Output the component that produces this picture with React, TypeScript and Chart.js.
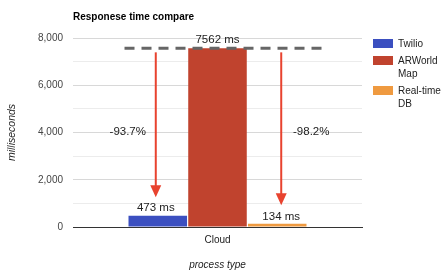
import React, { useEffect, useRef } from "react";
import { Chart, registerables } from "chart.js";

Chart.register(...registerables);

const categories = ["Cloud"];
const seriesNames = ["Twilio", "ARWorld Map", "Real-time DB"];
const legendLines = [["Twilio"], ["ARWorld", "Map"], ["Real-time", "DB"]];
const twilioValues = [473];
const arWorldValues = [7562];
const realtimeValues = [134];
const seriesColors = ["#3b4fc0", "#c0432e", "#ef9a40"];
const yTickLabels = ["0", "2,000", "4,000", "6,000", "8,000"];
const chartTitle = "Responese time compare";
const xTitle = "process type";
const yTitle = "milliseconds";

const FONT = "Arial, 'Liberation Sans', sans-serif";

const annotations = {
  id: "annotations",
  afterDatasetsDraw(chart: any) {
    const ctx = chart.ctx;
    const y = chart.scales.y;
    const b0 = chart.getDatasetMeta(0).data[0] as any;
    const b1 = chart.getDatasetMeta(1).data[0] as any;
    const b2 = chart.getDatasetMeta(2).data[0] as any;
    const ref = arWorldValues[0];
    const refY = y.getPixelForValue(ref);
    ctx.save();
    // dashed reference line
    ctx.strokeStyle = "#666666";
    ctx.lineWidth = 3;
    ctx.setLineDash([10, 7]);
    ctx.beginPath();
    ctx.moveTo(b0.x - b0.width / 2 - 4, refY);
    ctx.lineTo(b2.x + b2.width / 2 + 18, refY);
    ctx.stroke();
    ctx.setLineDash([]);

    ctx.font = `11.5px ${FONT}`;
    ctx.fillStyle = "#222222";
    ctx.textAlign = "center";
    ctx.textBaseline = "middle";
    const items = [
      { bar: b0, v: twilioValues[0], dx: -2, pdx: -28 },
      { bar: b2, v: realtimeValues[0], dx: 4, pdx: 30 },
    ];
    ctx.fillText(`${ref} ms`, b1.x, refY - 8.5);
    for (const it of items) {
      const topY = y.getPixelForValue(it.v);
      const labelY = topY - 7.5;
      const ax = it.bar.x + it.dx;
      ctx.fillStyle = "#222222";
      ctx.fillText(`${it.v} ms`, ax, labelY);
      const tip = labelY - 11;
      const startY = refY + 4;
      ctx.strokeStyle = "#e8432f";
      ctx.fillStyle = "#e8432f";
      ctx.lineWidth = 2;
      ctx.beginPath();
      ctx.moveTo(ax, startY);
      ctx.lineTo(ax, tip - 10);
      ctx.stroke();
      ctx.beginPath();
      ctx.moveTo(ax - 5.5, tip - 12);
      ctx.lineTo(ax + 5.5, tip - 12);
      ctx.lineTo(ax, tip);
      ctx.closePath();
      ctx.fill();
      const pct = (((it.v - ref) / ref) * 100).toFixed(1) + "%";
      ctx.fillStyle = "#222222";
      ctx.fillText(pct, ax + it.pdx, y.getPixelForValue(4000) - 0.5);
    }

    // title
    ctx.font = `bold 10px ${FONT}`;
    ctx.textAlign = "left";
    ctx.fillStyle = "#000000";
    ctx.fillText(chartTitle, chart.chartArea.left, 17);

    // legend
    const lx = chart.chartArea.right + 11;
    let ly = 39;
    ctx.font = `10px ${FONT}`;
    legendLines.forEach((lines, i) => {
      ctx.fillStyle = seriesColors[i];
      ctx.fillRect(lx, ly, 20, 9);
      ctx.fillStyle = "#222222";
      lines.forEach((t, j) => ctx.fillText(t, lx + 25, ly + 5 + j * 13));
      ly += 17 + (lines.length - 1) * 13;
    });
    ctx.restore();
  },
};

export default function App() {
  const ref = useRef<HTMLCanvasElement>(null);
  useEffect(() => {
    document.body.style.margin = "0";
    const chart = new Chart(ref.current!, {
      type: "bar",
      data: {
        labels: categories,
        datasets: [twilioValues, arWorldValues, realtimeValues].map((d, i) => ({
          label: seriesNames[i],
          data: d,
          backgroundColor: seriesColors[i],
          categoryPercentage: 0.62,
          barPercentage: 0.98,
        })),
      },
      options: {
        animation: false,
        responsive: false,
        maintainAspectRatio: false,
        layout: { padding: { top: 38, right: 84, left: 0, bottom: 0 } },
        plugins: { legend: { display: false }, title: { display: false }, tooltip: { enabled: false } },
        scales: {
          x: {
            grid: { display: false, drawTicks: false },
            border: { display: true, color: "#333333", width: 1 },
            ticks: { color: "#222222", font: { family: FONT, size: 10 }, padding: 7 },
            title: {
              display: true,
              text: xTitle,
              color: "#222222",
              font: { family: FONT, size: 10, style: "italic" },
              padding: { top: 0, bottom: 7 },
            },
            afterFit: (s: any) => { s.height = 51; },
          },
          y: {
            min: 0,
            max: 8000,
            ticks: {
              stepSize: 1000,
              color: "#444444",
              font: { family: FONT, size: 10 },
              padding: 10,
              callback: (v: any) => (Number(v) % 2000 === 0 ? yTickLabels[Number(v) / 2000] : ""),
            },
            grid: {
              drawTicks: false,
              color: (c: any) => (c.tick && c.tick.value === 0 ? "#333333" : c.tick && c.tick.value % 2000 === 0 ? "#d8d8d8" : "#ececec"),
            },
            border: { display: false },
            title: {
              display: true,
              text: yTitle,
              color: "#222222",
              font: { family: FONT, size: 10.5, style: "italic" },
              padding: { top: 6, bottom: 0 },
            },
            afterFit: (s: any) => { s.width = 73; },
          },
        },
      },
      plugins: [annotations],
    });
    return () => chart.destroy();
  }, []);
  return (
    <div style={{ width: 446, height: 278 }}>
      <canvas ref={ref} width={446} height={278} style={{ width: 446, height: 278 }} />
    </div>
  );
}
